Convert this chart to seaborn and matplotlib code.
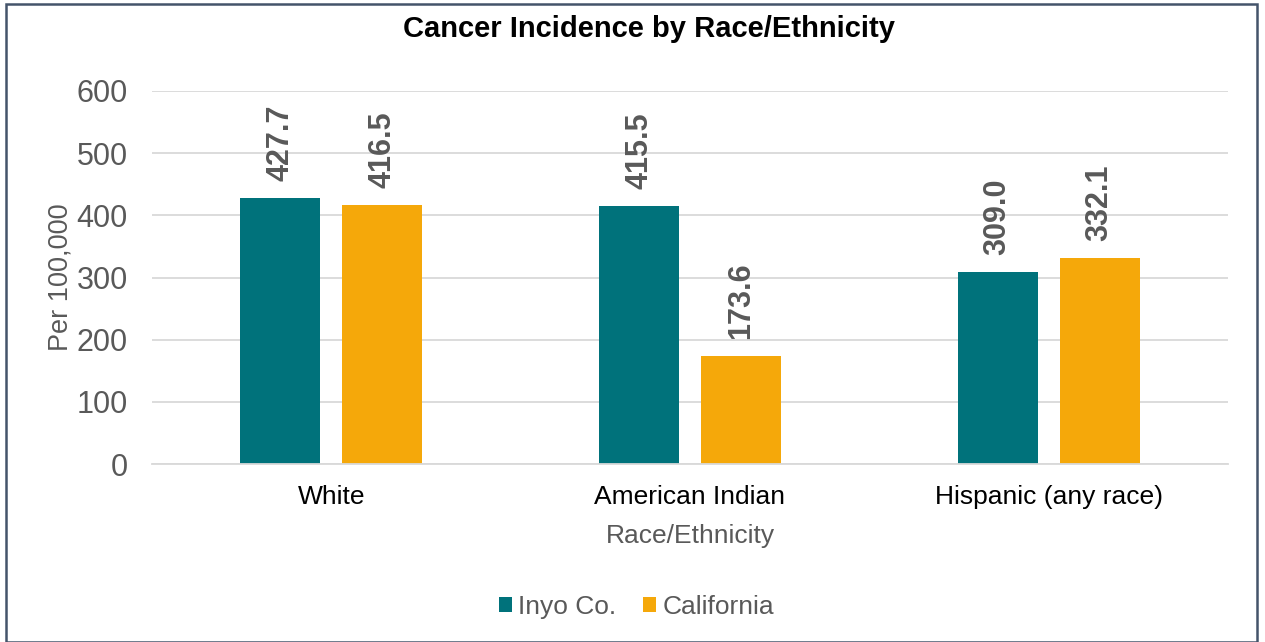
import matplotlib
matplotlib.use("Agg")
import matplotlib.pyplot as plt
import seaborn as sns
import pandas as pd
from matplotlib.patches import Rectangle

categories = ["White", "American Indian", "Hispanic (any race)"]
series_names = ["Inyo Co.", "California"]
inyo_values = [427.7, 415.5, 309.0]
california_values = [416.5, 173.6, 332.1]
y_ticks = [0, 100, 200, 300, 400, 500, 600]

df = pd.DataFrame({
    "Race/Ethnicity": categories * 2,
    "Series": [series_names[0]] * 3 + [series_names[1]] * 3,
    "Value": inyo_values + california_values,
})

sns.set_theme(style="white")
plt.rcParams["font.family"] = ["Liberation Sans", "DejaVu Sans"]

TEAL = "#00727B"
ORANGE = "#F5A80A"
GRAY = "#595959"

fig = plt.figure(figsize=(12.65, 6.42), dpi=100)
ax = fig.add_axes([152 / 1265, 1 - 464 / 642, (1228 - 152) / 1265, (464 - 91) / 642])

sns.barplot(data=df, x="Race/Ethnicity", y="Value", hue="Series",
            palette=[TEAL, ORANGE], width=0.568, gap=0.215,
            saturation=1, linewidth=0, ax=ax, legend=True)

ax.set_ylim(0, 600)
ax.set_xlim(-0.5, 2.5)
ax.set_yticks(y_ticks)
ax.yaxis.grid(True, color="#D9D9D9", linewidth=1.3)
ax.set_axisbelow(True)
for s in ["top", "right", "left"]:
    ax.spines[s].set_visible(False)
ax.spines["bottom"].set_color("#D9D9D9")
ax.spines["bottom"].set_linewidth(1.3)
ax.tick_params(axis="y", labelsize=22, colors=GRAY, length=0, pad=17.5)
ax.tick_params(axis="x", labelsize=19, labelcolor="#000000", length=0, pad=15)

ax.set_ylabel("Per 100,000", fontsize=19.5, color=GRAY, labelpad=2)
ax.set_xlabel("Race/Ethnicity", fontsize=19, color=GRAY, labelpad=11)

for cont in ax.containers:
    for bar in cont:
        h = bar.get_height()
        ax.annotate(f"{h:.1f}", (bar.get_x() + bar.get_width() / 2, h),
                    xytext=(0, 12), textcoords="offset points",
                    rotation=90, ha="center", va="bottom",
                    fontsize=22, fontweight="bold", color=GRAY)

fig.text(649 / 1265, 1 - 29 / 642, "Cancer Incidence by Race/Ethnicity", ha="center",
         va="center", fontsize=21, fontweight="bold", color="#000000")

leg = ax.legend(loc="center", bbox_to_anchor=(636.5 / 1265, 1 - 607 / 642),
                bbox_transform=fig.transFigure, ncol=2, frameon=False,
                fontsize=19, handlelength=0.5, handleheight=0.5,
                handletextpad=0.23, columnspacing=1.0)
for t in leg.get_texts():
    t.set_color(GRAY)

fig.patches.append(Rectangle((5.5 / 1265, 0), (1257 - 5.5) / 1265, 1 - 3.5 / 642,
                             transform=fig.transFigure, fill=False,
                             edgecolor="#44546A", linewidth=1.8))

fig.savefig("out.png", dpi=100)
